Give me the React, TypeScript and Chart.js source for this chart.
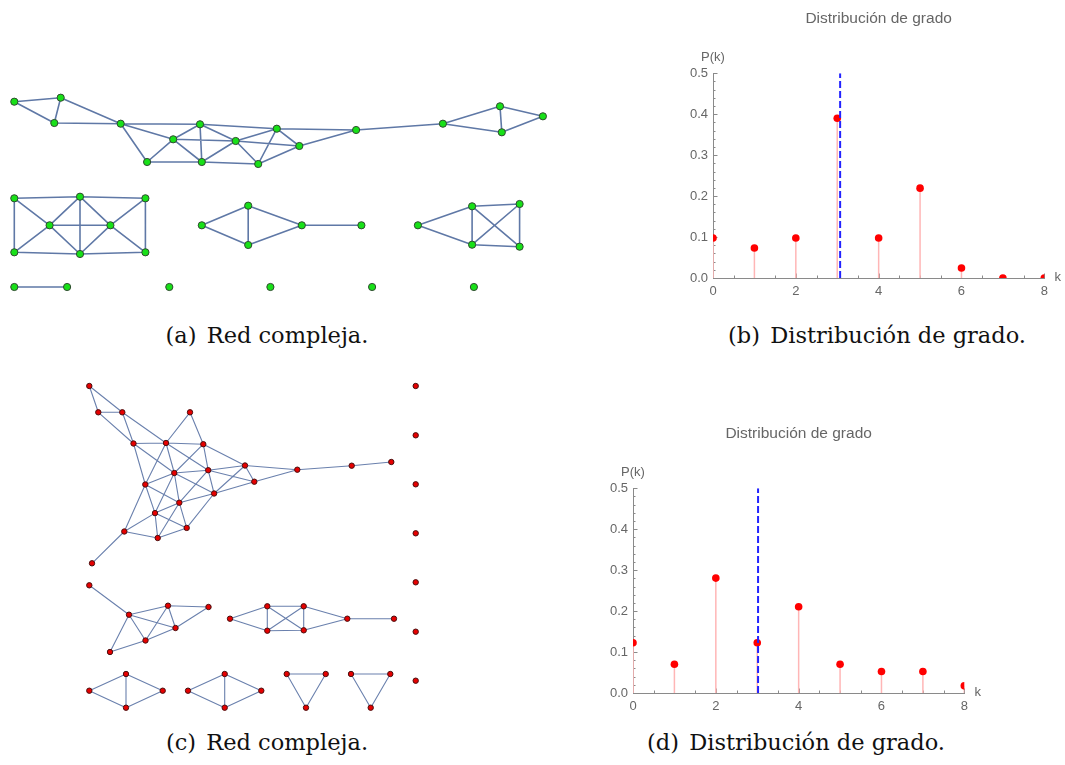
import React, { useEffect, useRef } from "react";
import { Chart, registerables } from "chart.js";

Chart.register(...registerables);

// ---------- Degree distributions ----------
const degreeK = [0, 1, 2, 3, 4, 5, 6, 7, 8];
const probTicks = [0, 0.1, 0.2, 0.3, 0.4, 0.5];
const kTicks = [0, 2, 4, 6, 8];

// P(k) for the first network (41 nodes) and its mean degree
const probB = [0.0976, 0.0732, 0.0976, 0.3902, 0.0976, 0.2195, 0.0244, 0, 0];
const meanB = 3.07;

// P(k) for the second network (57 nodes) and its mean degree
const probD = [0.1228, 0.0702, 0.2807, 0.1228, 0.2105, 0.0702, 0.0526, 0.0526, 0.0175];
const meanD = 3.02;

// ---------- Network (a): layout coordinates of the nodes ----------
const graphANodes: number[][] = [
  [14.3, 16.7], [60.7, 12.7], [54.3, 38], [120.7, 38.7], [200, 39.3], [173.2, 54.3],
  [276.8, 43.7], [235.7, 56], [299.3, 61], [147.1, 77], [201.8, 77], [258.2, 79],
  [356.1, 45], [442.9, 38.7], [500, 21.3], [542.9, 31.3], [501.8, 47.3],
  [14.3, 113.3], [80, 111.7], [145.4, 113.3], [49.6, 140.3], [110.4, 140.3],
  [14.3, 167.3], [80, 169], [145.4, 167.3],
  [201.8, 140.3], [248.2, 120.7], [248.2, 160], [301.8, 140.3], [361.4, 140.3],
  [417.9, 140.3], [472.1, 121.3], [519.6, 119], [472.1, 159.7], [519.6, 161.7],
  [14.3, 202], [67.1, 202],
  [169.3, 202], [270.4, 202], [372.1, 202], [473.9, 202],
];

const graphAEdges: number[][] = [
  [0, 1], [0, 2], [1, 2], [1, 3], [2, 3], [3, 4], [3, 5], [3, 9], [4, 5], [4, 10],
  [4, 7], [4, 6], [5, 9], [5, 10], [5, 7], [7, 8], [6, 7], [6, 8], [6, 11], [6, 12],
  [7, 10], [7, 11], [10, 11], [9, 10], [8, 11], [8, 12], [12, 13], [13, 14], [13, 16],
  [14, 16], [14, 15], [15, 16],
  [17, 18], [18, 19], [17, 22], [19, 24], [22, 23], [23, 24], [17, 20], [18, 20],
  [18, 21], [18, 23], [19, 21], [20, 21], [20, 22], [20, 23], [21, 23], [21, 24],
  [25, 26], [25, 27], [26, 27], [26, 28], [27, 28], [28, 29],
  [30, 31], [30, 33], [31, 32], [31, 33], [31, 34], [32, 33], [32, 34], [33, 34],
  [35, 36],
];

// ---------- Network (c): layout coordinates of the nodes ----------
const graphCNodes: number[][] = [
  [29.3, 16], [38.3, 42.3], [62.3, 42.3], [130, 42.3], [73.5, 73.5], [106, 73],
  [143.3, 74.2], [185, 95.5], [237.3, 99.7], [291.7, 95.7], [331.3, 92], [114.3, 103],
  [148.2, 100.2], [194.3, 111.7], [85.3, 114.5], [154.1, 123.5], [119.3, 132.7],
  [95, 143.1], [126.7, 157.9], [64.3, 161.5], [97.7, 168], [32, 193.3],
  [355.7, 16], [355.7, 65.3], [355.7, 114.3], [355.7, 163.3], [355.7, 212.3],
  [355.7, 261.7], [355.7, 310.7],
  [29.3, 215.3], [69, 244.7], [108, 235.7], [148.5, 237], [115.5, 258], [85.5, 270.5], [50, 282],
  [170, 248.7], [207.3, 236.3], [243.7, 236.3], [207.3, 260.7], [243.7, 260.3], [287.3, 248.7], [334, 248.7],
  [29.3, 320.7], [66, 304], [102.7, 320.7], [66, 337.7],
  [128, 320.7], [164.7, 304], [201.3, 320.7], [164.7, 337.7],
  [226.7, 304], [265.7, 304], [246, 337.7],
  [291, 304], [330.3, 304], [310.7, 337.7],
];

const graphCEdges: number[][] = [
  [0, 1], [0, 2], [1, 2], [1, 4], [2, 4], [2, 5], [3, 5], [3, 6], [4, 5], [5, 6],
  [4, 11], [4, 14], [5, 14], [5, 11], [5, 12], [6, 11], [6, 12], [6, 7], [7, 12], [7, 13],
  [7, 15], [7, 8], [8, 13], [8, 9], [9, 10], [11, 12], [11, 14], [11, 15], [11, 16], [11, 17],
  [12, 15], [12, 16], [12, 13], [13, 15], [14, 17], [14, 19], [14, 16], [15, 16], [15, 18], [16, 17],
  [16, 18], [16, 20], [17, 18], [17, 19], [17, 20], [18, 20], [19, 20], [19, 21],
  [29, 30], [30, 31], [31, 32], [30, 33], [31, 33], [31, 34], [30, 34], [30, 35], [35, 34], [34, 33], [33, 32],
  [36, 37], [36, 39], [37, 38], [37, 39], [37, 40], [38, 39], [38, 40], [39, 40], [38, 41], [40, 41], [41, 42],
  [43, 44], [43, 46], [44, 45], [46, 45], [44, 46],
  [47, 48], [47, 50], [48, 49], [50, 49], [48, 50],
  [51, 52], [51, 53], [52, 53],
  [54, 55], [54, 56], [55, 56],
];

const SANS = "'Liberation Sans', Arial, sans-serif";
const LABEL_GREY = "#666666";
const AXIS_GREY = "#8a8a8a";

type NetProps = {
  nodes: number[][];
  edges: number[][];
  left: number;
  top: number;
  width: number;
  height: number;
  nodeFill: string;
  nodeStroke: string;
  nodeRadius: number;
  edgeColor: string;
  edgeWidth: number;
};

function NetworkPanel(p: NetProps) {
  const ref = useRef<HTMLCanvasElement>(null);
  useEffect(() => {
    const segs: any[] = [];
    p.edges.forEach(([a, b]) => {
      segs.push({ x: p.nodes[a][0], y: p.nodes[a][1] });
      segs.push({ x: p.nodes[b][0], y: p.nodes[b][1] });
      segs.push({ x: null, y: null });
    });
    const chart = new Chart(ref.current as HTMLCanvasElement, {
      type: "scatter",
      data: {
        datasets: [
          {
            data: p.nodes.map(([x, y]) => ({ x, y })),
            pointRadius: p.nodeRadius,
            pointHoverRadius: p.nodeRadius,
            backgroundColor: p.nodeFill,
            borderColor: p.nodeStroke,
            borderWidth: 1,
            order: 0,
            clip: false,
          } as any,
          {
            data: segs,
            showLine: true,
            spanGaps: false,
            pointRadius: 0,
            pointHoverRadius: 0,
            borderColor: p.edgeColor,
            borderWidth: p.edgeWidth,
            order: 1,
            clip: false,
          } as any,
        ],
      },
      options: {
        responsive: false,
        animation: false,
        events: [],
        layout: { padding: 0, autoPadding: false },
        plugins: { legend: { display: false }, tooltip: { enabled: false } },
        scales: {
          x: { type: "linear", display: false, min: 0, max: p.width },
          y: { type: "linear", display: false, min: 0, max: p.height, reverse: true },
        },
      },
    });
    return () => chart.destroy();
  }, []);
  return (
    <canvas
      ref={ref}
      width={p.width}
      height={p.height}
      style={{ position: "absolute", left: p.left, top: p.top, width: p.width, height: p.height }}
    />
  );
}

type DistProps = { probs: number[]; mean: number; left: number; top: number; title: string };

function DegreePanel(p: DistProps) {
  const ref = useRef<HTMLCanvasElement>(null);
  const W = 425;
  const H = 300;
  useEffect(() => {
    const yMax = probTicks[probTicks.length - 1];
    const xMax = degreeK[degreeK.length - 1];
    const stems: any[] = [];
    degreeK.forEach((k, i) => {
      stems.push({ x: k, y: 0 }, { x: k, y: p.probs[i] }, { x: null, y: null });
    });

    const decor = {
      id: "decor",
      beforeDatasetsDraw(chart: any) {
        const { ctx, chartArea: a, scales } = chart;
        const xs = scales.x;
        const ys = scales.y;
        ctx.save();
        ctx.strokeStyle = AXIS_GREY;
        ctx.lineWidth = 1;
        ctx.beginPath();
        // inward minor/major ticks on the k axis
        for (let i = 1; i <= xMax * 2; i++) {
          const px = Math.round(xs.getPixelForValue(i / 2)) + 0.5;
          const len = i % 4 === 0 ? 4.5 : 2.5;
          ctx.moveTo(px, a.bottom);
          ctx.lineTo(px, a.bottom - len);
        }
        // inward minor/major ticks on the P(k) axis
        for (let i = 1; i <= 25; i++) {
          const py = Math.round(ys.getPixelForValue((i * yMax) / 25)) + 0.5;
          const len = i % 5 === 0 ? 4.5 : 2.5;
          ctx.moveTo(a.left, py);
          ctx.lineTo(a.left + len, py);
        }
        ctx.stroke();
        ctx.restore();
      },
      afterDraw(chart: any) {
        const { ctx, chartArea: a } = chart;
        ctx.save();
        ctx.fillStyle = LABEL_GREY;
        ctx.textBaseline = "middle";
        ctx.textAlign = "center";
        ctx.font = `15.5px ${SANS}`;
        ctx.fillText(p.title, (a.left + a.right) / 2, a.top - 55);
        ctx.font = `13px ${SANS}`;
        ctx.fillText("P(k)", a.left, a.top - 16);
        ctx.fillText("k", a.right + 13.5, a.bottom - 1);
        ctx.restore();
      },
    };

    const chart = new Chart(ref.current as HTMLCanvasElement, {
      type: "scatter",
      data: {
        datasets: [
          {
            data: [
              { x: p.mean, y: 0 },
              { x: p.mean, y: yMax },
            ],
            showLine: true,
            borderColor: "#2222ff",
            borderWidth: 2,
            borderDash: [7, 3],
            pointRadius: 0,
            pointHoverRadius: 0,
            order: 0,
          } as any,
          {
            data: degreeK.map((k, i) => ({ x: k, y: p.probs[i] })),
            pointRadius: 3.8,
            pointHoverRadius: 3.8,
            backgroundColor: "#ff0000",
            borderWidth: 0,
            order: 1,
            clip: 0,
          } as any,
          {
            data: stems,
            showLine: true,
            spanGaps: false,
            borderColor: "#ffb6b6",
            borderWidth: 1.5,
            pointRadius: 0,
            pointHoverRadius: 0,
            order: 2,
          } as any,
        ],
      },
      options: {
        responsive: false,
        animation: false,
        events: [],
        layout: { padding: { left: 33, top: 73.3, right: 20.7, bottom: 0 }, autoPadding: false },
        plugins: { legend: { display: false }, tooltip: { enabled: false } },
        scales: {
          x: {
            type: "linear",
            min: 0,
            max: xMax,
            afterBuildTicks: (s: any) => {
              s.ticks = kTicks.map((v) => ({ value: v }));
            },
            afterFit: (s: any) => {
              s.height = 22;
            },
            grid: { display: false, drawTicks: false },
            border: { display: true, color: AXIS_GREY, width: 1 },
            ticks: {
              padding: 6,
              color: LABEL_GREY,
              font: { family: SANS, size: 13 },
              maxRotation: 0,
              callback: (v: any) => String(v),
            },
          },
          y: {
            type: "linear",
            min: 0,
            max: yMax,
            afterBuildTicks: (s: any) => {
              s.ticks = probTicks.map((v) => ({ value: v }));
            },
            afterFit: (s: any) => {
              s.width = 40;
            },
            grid: { display: false, drawTicks: false },
            border: { display: true, color: AXIS_GREY, width: 1 },
            ticks: {
              padding: 5,
              color: LABEL_GREY,
              font: { family: SANS, size: 13 },
              callback: (v: any) => Number(v).toFixed(1),
            },
          },
        },
      },
      plugins: [decor],
    });
    return () => chart.destroy();
  }, []);
  return (
    <canvas
      ref={ref}
      width={W}
      height={H}
      style={{ position: "absolute", left: p.left, top: p.top, width: W, height: H }}
    />
  );
}

function Caption({ tag, text, cx, baseline }: { tag: string; text: string; cx: number; baseline: number }) {
  return (
    <div
      style={{
        position: "absolute",
        left: cx,
        top: baseline - 19,
        transform: "translateX(-50%)",
        whiteSpace: "nowrap",
        fontFamily: "'DejaVu Serif', serif",
        fontSize: "22.5px",
        lineHeight: "22.5px",
        color: "#111111",
      }}
    >
      <span style={{ marginRight: 3 }}>{tag}</span> {text}
    </div>
  );
}

export default function App() {
  return (
    <div
      style={{
        position: "absolute",
        left: 0,
        top: 0,
        width: 1065,
        height: 765,
        background: "#ffffff",
        overflow: "hidden",
      }}
    >
      <NetworkPanel
        nodes={graphANodes}
        edges={graphAEdges}
        left={0}
        top={85}
        width={565}
        height={215}
        nodeFill="#18e018"
        nodeStroke="#2f4a2f"
        nodeRadius={3.6}
        edgeColor="#5f78a6"
        edgeWidth={1.6}
      />
      <DegreePanel probs={probB} mean={meanB} left={640} top={0} title="Distribución de grado" />
      <NetworkPanel
        nodes={graphCNodes}
        edges={graphCEdges}
        left={60}
        top={370}
        width={380}
        height={350}
        nodeFill="#e60000"
        nodeStroke="#4a1010"
        nodeRadius={2.7}
        edgeColor="#6a80ad"
        edgeWidth={1.1}
      />
      <DegreePanel probs={probD} mean={meanD} left={560} top={415} title="Distribución de grado" />
      <Caption tag="(a)" text="Red compleja." cx={267} baseline={343} />
      <Caption tag="(b)" text="Distribución de grado." cx={877} baseline={343} />
      <Caption tag="(c)" text="Red compleja." cx={267} baseline={750} />
      <Caption tag="(d)" text="Distribución de grado." cx={796} baseline={750} />
    </div>
  );
}
